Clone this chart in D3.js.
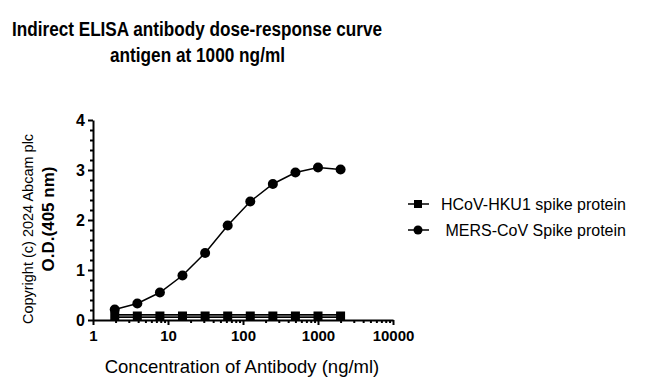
<!DOCTYPE html>
<html>
<head>
<meta charset="utf-8">
<script src="https://cdn.jsdelivr.net/npm/d3@7"></script>
<style>
  body { margin: 0; background: #fff; }
  text { font-family: Arial, "Liberation Sans", sans-serif; }
</style>
</head>
<body>
<script>
// data
const conc = [1.95, 3.9, 7.8, 15.6, 31.25, 62.5, 125, 250, 500, 1000, 2000];
const hku1 = [0.08, 0.08, 0.08, 0.08, 0.08, 0.08, 0.08, 0.08, 0.08, 0.08, 0.08];
const mers = [0.21, 0.33, 0.55, 0.89, 1.34, 1.89, 2.37, 2.72, 2.95, 3.05, 3.01];
const seriesNames = ["HCoV-HKU1 spike protein", " MERS-CoV Spike protein"];
const xTicks = [1, 10, 100, 1000, 10000];
const yTicks = [0, 1, 2, 3, 4];

const W = 645, H = 391;
const svg = d3.select("body").append("svg")
  .attr("width", W).attr("height", H);

// plot area
const x = d3.scaleLog().domain([1, 10000]).range([93, 393]);
const y = d3.scaleLinear().domain([0, 4]).range([320, 120]);

// title (condensed bold look, squeezed to the reference width)
svg.append("text")
  .attr("x", 12).attr("y", 36)
  .attr("textLength", 370).attr("lengthAdjust", "spacingAndGlyphs")
  .style("font-weight", "bold").style("font-size", "20px")
  .text("Indirect ELISA antibody dose-response curve");
svg.append("text")
  .attr("x", 110).attr("y", 62)
  .attr("textLength", 175).attr("lengthAdjust", "spacingAndGlyphs")
  .style("font-weight", "bold").style("font-size", "20px")
  .text("antigen at 1000 ng/ml");

// y axis
const yAxis = svg.append("g")
  .attr("transform", "translate(93,0)")
  .call(d3.axisLeft(y).tickValues(yTicks).tickFormat(d3.format("d")).tickSize(5).tickSizeOuter(0));
// y minor ticks
svg.append("g")
  .attr("transform", "translate(93,0)")
  .call(d3.axisLeft(y).tickValues(d3.range(0, 4.01, 0.2).filter(v => Math.abs(v - Math.round(v)) > 0.01))
    .tickSize(3).tickFormat(""))
  .call(g => g.select(".domain").remove());

// x axis
const xAxis = svg.append("g")
  .attr("transform", "translate(0,320)")
  .call(d3.axisBottom(x).tickValues(xTicks).tickFormat(d3.format("d")).tickSize(5).tickSizeOuter(0));
const minors = [];
for (let d = 1; d < 10000; d *= 10) for (let k = 2; k <= 9; k++) minors.push(d * k);
svg.append("g")
  .attr("transform", "translate(0,320)")
  .call(d3.axisBottom(x).tickValues(minors).tickSize(3).tickFormat(""))
  .call(g => g.select(".domain").remove());

svg.selectAll(".domain, .tick line").attr("stroke", "#000").attr("stroke-width", 2);
yAxis.selectAll(".tick text")
  .style("font-size", "16px").style("font-weight", "bold").attr("fill", "#000").attr("x", -8);
xAxis.selectAll(".tick text")
  .style("font-size", "15px").style("font-weight", "bold").attr("fill", "#000").attr("y", 10);

// axis titles
svg.append("text")
  .attr("transform", "translate(54,219) rotate(-90)")
  .attr("text-anchor", "middle")
  .style("font-weight", "bold").style("font-size", "17px")
  .text("O.D.(405 nm)");
svg.append("text")
  .attr("transform", "translate(33,229) rotate(-90)")
  .attr("text-anchor", "middle")
  .style("font-size", "14.5px")
  .text("Copyright (c) 2024 Abcam plc");
svg.append("text")
  .attr("x", 242).attr("y", 373)
  .attr("text-anchor", "middle")
  .style("font-size", "18.5px")
  .text("Concentration of Antibody (ng/ml)");

// lines + markers
const line = d3.line().x(d => x(d[0])).y(d => y(d[1]));
const hkuPts = conc.map((c, i) => [c, hku1[i]]);
const mersPts = conc.map((c, i) => [c, mers[i]]);

svg.append("path").datum(hkuPts).attr("d", line)
  .attr("fill", "none").attr("stroke", "#000").attr("stroke-width", 4);
svg.append("path").datum(hkuPts).attr("d", line)
  .attr("fill", "none").attr("stroke", "#999").attr("stroke-width", 1.2);
svg.append("path").datum(mersPts).attr("d", line)
  .attr("fill", "none").attr("stroke", "#000").attr("stroke-width", 1.5);

svg.selectAll(".sq").data(hkuPts).join("rect")
  .attr("x", d => x(d[0]) - 4.5).attr("y", d => y(d[1]) - 4.5)
  .attr("width", 9).attr("height", 9).attr("fill", "#000");
svg.selectAll(".ci").data(mersPts).join("circle")
  .attr("cx", d => x(d[0])).attr("cy", d => y(d[1])).attr("r", 5).attr("fill", "#000");

// legend
const leg = svg.append("g");
const legY = [204, 230];
leg.selectAll("line").data(legY).join("line")
  .attr("x1", 408).attr("x2", 429).attr("y1", d => d).attr("y2", d => d)
  .attr("stroke", "#000").attr("stroke-width", 1.5);
leg.append("rect").attr("x", 414).attr("y", legY[0] - 4).attr("width", 8).attr("height", 8).attr("fill", "#000");
leg.append("circle").attr("cx", 418).attr("cy", legY[1]).attr("r", 4.5).attr("fill", "#000");
leg.selectAll("text").data(seriesNames).join("text")
  .attr("x", 441).attr("y", (d, i) => legY[i] + 6)
  .style("font-size", "16px").style("white-space", "pre")
  .attr("xml:space", "preserve")
  .text(d => d);
</script>
</body>
</html>
